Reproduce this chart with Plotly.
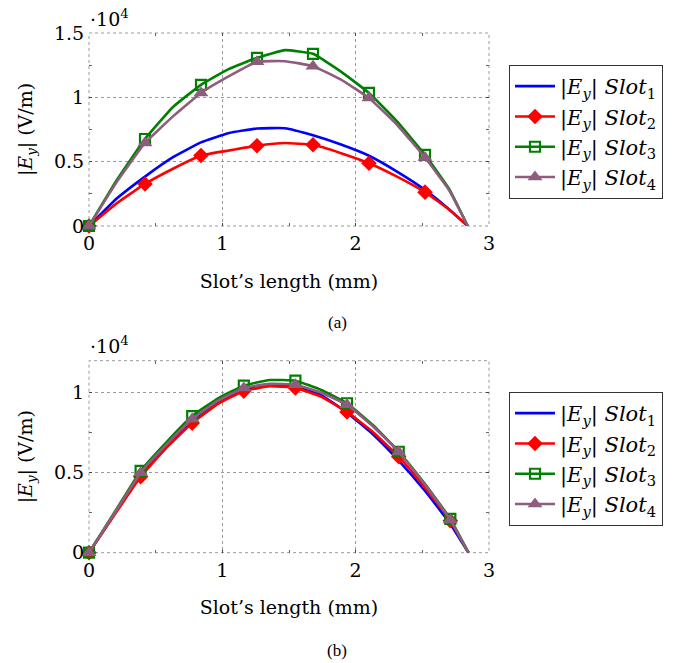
import plotly.graph_objects as go

# ---------------- data (|E_y| in units of 10^4 V/m) ----------------
# (a)
x_a = [0, 0.21, 0.42, 0.63, 0.84, 1.05, 1.26, 1.47, 1.68, 1.89, 2.10, 2.31, 2.52, 2.70, 2.84]
slot1_a = [0, 0.215, 0.384, 0.535, 0.650, 0.722, 0.758, 0.760, 0.705, 0.633, 0.546, 0.423, 0.281, 0.130, 0]
slot2_a = [0, 0.178, 0.327, 0.445, 0.548, 0.587, 0.624, 0.645, 0.631, 0.566, 0.488, 0.384, 0.263, 0.128, 0]
slot3_a = [0, 0.360, 0.676, 0.925, 1.097, 1.221, 1.307, 1.367, 1.338, 1.200, 1.034, 0.813, 0.553, 0.290, 0]
slot4_a = [0, 0.345, 0.645, 0.852, 1.034, 1.164, 1.276, 1.281, 1.242, 1.138, 0.995, 0.787, 0.532, 0.280, 0]
marker_idx_a = [0, 2, 4, 6, 8, 10, 12]

# (b)
x_b = [0, 0.194, 0.387, 0.58, 0.774, 0.968, 1.161, 1.355, 1.548, 1.742, 1.935, 2.129, 2.323, 2.516, 2.71, 2.846]
slot1_b = [0, 0.245, 0.485, 0.665, 0.820, 0.940, 1.020, 1.050, 1.040, 0.985, 0.875, 0.740, 0.575, 0.390, 0.180, 0]
slot2_b = [0, 0.240, 0.475, 0.655, 0.810, 0.930, 1.010, 1.040, 1.030, 0.975, 0.880, 0.755, 0.600, 0.410, 0.200, 0]
slot3_b = [0, 0.256, 0.511, 0.690, 0.854, 0.965, 1.044, 1.079, 1.075, 1.017, 0.934, 0.798, 0.631, 0.434, 0.211, 0]
slot4_b = [0, 0.250, 0.500, 0.675, 0.835, 0.950, 1.030, 1.055, 1.050, 1.000, 0.925, 0.790, 0.630, 0.430, 0.205, 0]
marker_idx_b = [0, 2, 4, 6, 8, 10, 12, 14]

series_names = ["|<i>E</i><sub><i>y</i></sub>| <i>Slot</i><sub>1</sub>",
                "|<i>E</i><sub><i>y</i></sub>| <i>Slot</i><sub>2</sub>",
                "|<i>E</i><sub><i>y</i></sub>| <i>Slot</i><sub>3</sub>",
                "|<i>E</i><sub><i>y</i></sub>| <i>Slot</i><sub>4</sub>"]
x_title = "Slot’s length (mm)"
y_title = "|<i>E</i><sub><i>y</i></sub>| (V/m)"

# ---------------- styles ----------------
colors = ["#0000ff", "#ff0000", "#008000", "#8e5c7c"]
symbols = [None, "diamond", "square-open", "triangle-up"]
msizes = [0, 12, 10, 13]
mline = [0, 0, 2.2, 0]
FONT = "DejaVu Serif"
CAPFONT = "Liberation Serif"
GRID = "#9a9a9a"

fig = go.Figure()


def add_series(x, ys, midx, xa, ya, legend):
    for i, y in enumerate(ys):
        fig.add_trace(go.Scatter(x=x, y=y, mode="lines", xaxis=xa, yaxis=ya,
                                 line=dict(color=colors[i], width=2.6, shape="spline", smoothing=0.35),
                                 showlegend=False, cliponaxis=False, hoverinfo="skip"))
        if symbols[i]:
            fig.add_trace(go.Scatter(x=[x[k] for k in midx], y=[y[k] for k in midx], mode="markers",
                                     xaxis=xa, yaxis=ya, cliponaxis=False, showlegend=False,
                                     marker=dict(symbol=symbols[i], size=msizes[i], color=colors[i],
                                                 line=dict(color=colors[i], width=mline[i]))))
        # legend entry
        fig.add_trace(go.Scatter(x=[None], y=[None], xaxis=xa, yaxis=ya, legend=legend,
                                 mode="lines+markers" if symbols[i] else "lines",
                                 name=series_names[i],
                                 line=dict(color=colors[i], width=2.6),
                                 marker=dict(symbol=symbols[i] or "circle", size=msizes[i] if symbols[i] else 1,
                                             color=colors[i], line=dict(color=colors[i], width=mline[i]))))


add_series(x_a, [slot1_a, slot2_a, slot3_a, slot4_a], marker_idx_a, "x", "y", "legend")
add_series(x_b, [slot1_b, slot2_b, slot3_b, slot4_b], marker_idx_b, "x2", "y2", "legend2")

W, H = 696, 663
xdom = [89 / W, 489 / W]
ydom_a = [1 - 226 / H, 1 - 33 / H]
ydom_b = [1 - 552.7 / H, 1 - 360.7 / H]

tickfont = dict(family=FONT, size=19, color="black")
common_x = dict(range=[0, 3], tickmode="linear", tick0=0, dtick=1, showgrid=True, gridcolor=GRID,
                griddash="dot", gridwidth=1, zeroline=False, ticks="inside", ticklen=3, tickcolor="#444",
                showline=True, linecolor="rgba(0,0,0,0)", mirror="ticks", tickfont=tickfont, automargin=False,
                minor=dict(dtick=0.5, ticks="inside", ticklen=3, tickcolor="#666", showgrid=False),
                title=dict(text=x_title, font=dict(family=FONT, size=19, color="black"), standoff=21))
common_y = dict(tickmode="linear", tick0=0, dtick=0.5, showgrid=True, gridcolor=GRID,
                griddash="dot", gridwidth=1, zeroline=False, ticks="inside", ticklen=3, tickcolor="#444",
                showline=True, linecolor="rgba(0,0,0,0)", mirror="ticks", tickfont=tickfont, automargin=False,
                minor=dict(dtick=0.25, ticks="inside", ticklen=3, tickcolor="#666", showgrid=False),
                title=dict(text=y_title, font=dict(family=FONT, size=19, color="black"), standoff=16))

legend_style = dict(xanchor="left", yanchor="top", bordercolor="#333", borderwidth=1, bgcolor="white",
                    font=dict(family=FONT, size=21, color="black"), tracegroupgap=0, itemwidth=40)

fig.update_layout(
    width=W, height=H, margin=dict(l=0, r=0, t=0, b=0, autoexpand=False),
    paper_bgcolor="white", plot_bgcolor="white",
    xaxis=dict(domain=xdom, anchor="y", **common_x),
    yaxis=dict(domain=ydom_a, anchor="x", range=[0, 1.5], **common_y),
    xaxis2=dict(domain=xdom, anchor="y2", **common_x),
    yaxis2=dict(domain=ydom_b, anchor="x2", range=[0, 1.2], **common_y),
    legend=dict(x=509 / W, y=1 - 65 / H, **legend_style),
    legend2=dict(x=509 / W, y=1 - 392 / H, **legend_style),
    showlegend=True,
)

# dotted frames
for xr, yr in [("x domain", "y domain"), ("x2 domain", "y2 domain")]:
    fig.add_shape(type="rect", xref=xr, yref=yr, x0=0, x1=1, y0=0, y1=1,
                  line=dict(color=GRID, width=1, dash="dot"), layer="below")

# scale factor labels and captions
for yc in [1 - 18 / H, 1 - 345 / H]:
    fig.add_annotation(x=88 / W, y=yc, xref="paper", yref="paper", xanchor="left", yanchor="middle",
                       text="·10<sup>4</sup>", showarrow=False, font=dict(family=FONT, size=19, color="black"))
for txt, yc in [("(a)", 1 - 322 / H), ("(b)", 1 - 650 / H)]:
    fig.add_annotation(x=337 / W, y=yc, xref="paper", yref="paper", xanchor="center", yanchor="middle",
                       text=txt, showarrow=False, font=dict(family=CAPFONT, size=17, color="black"))

fig.write_html("out.html", config={"displayModeBar": False, "staticPlot": True},
               post_script="document.body.style.margin='0';document.body.style.overflow='hidden';")
